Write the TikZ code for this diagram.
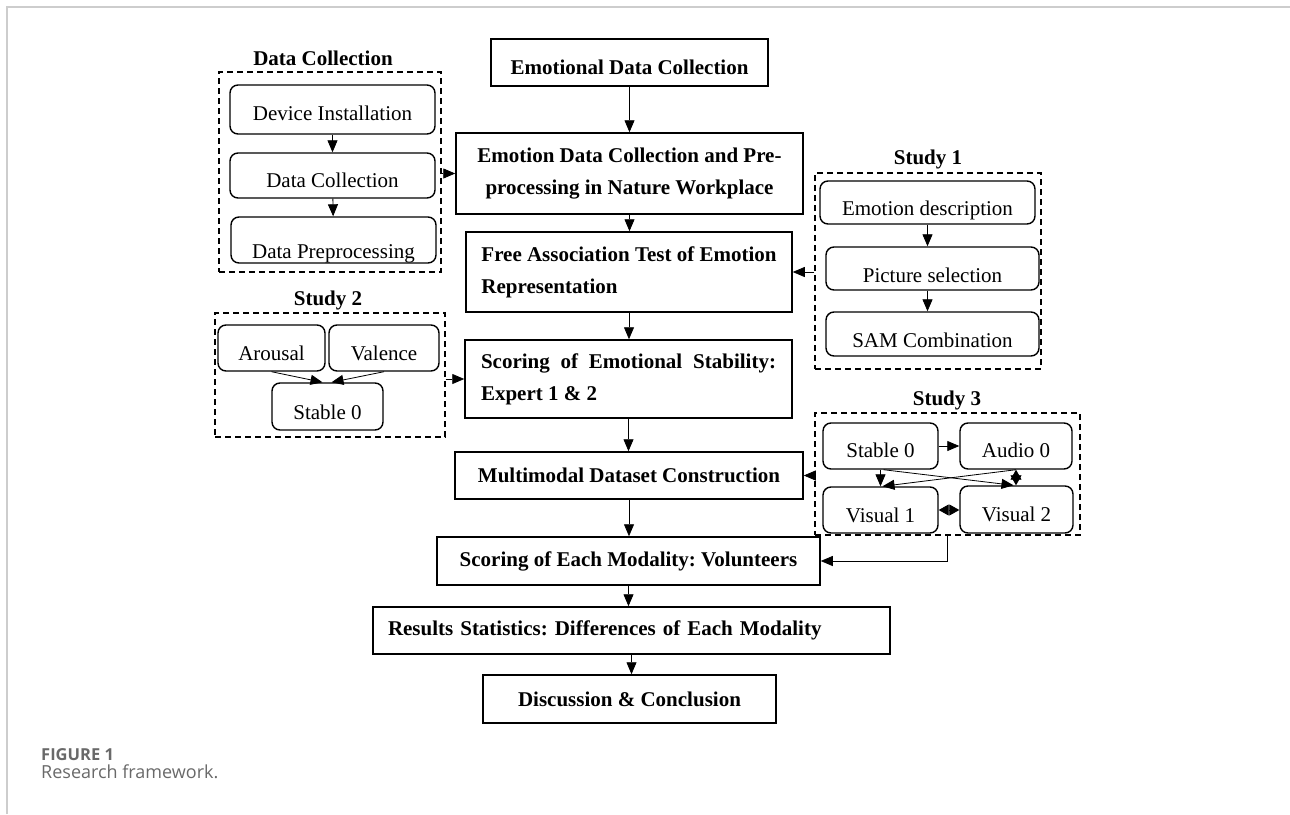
\documentclass[tikz,border=0pt]{standalone}
\usepackage{fontspec}
\setmainfont{Liberation Serif}
\newfontfamily\capfont{Open Sans}
\usetikzlibrary{arrows.meta}
\frenchspacing

\definecolor{framegray}{RGB}{205,205,205}
\definecolor{capgray}{RGB}{105,105,105}

\begin{document}
\begin{tikzpicture}[
    x=1pt, y=-1pt,
    every node/.style={font=\fontsize{21}{32}\selectfont, inner sep=0pt},
    mainbox/.style={draw, line width=1.5pt, font=\fontsize{21}{32}\selectfont\bfseries, minimum height=47},
    subbox/.style={draw, rounded corners=8pt, line width=1.4pt, minimum height=44},
    groupbox/.style={draw, line width=1.4pt, dash pattern=on 6pt off 4pt},
    grouptitle/.style={font=\fontsize{21}{25}\selectfont\bfseries},
    lowtext/.style={text height=#1, text depth=0pt},
    arr/.style={-{Triangle[length=12pt,width=10pt]}, line width=0.8pt},
    twoarr/.style={{Triangle[length=10pt,width=11pt]}-{Triangle[length=10pt,width=11pt]}, line width=0.8pt},
]
    \useasboundingbox (0,0) rectangle (1290,814);

    % page frame
    \draw[framegray, line width=1.5pt] (7,814) -- (7,7) -- (1290,7);

    % main column
    \node[mainbox, minimum width=277, lowtext=23] (edc) at (629.5, 62.5) {Emotional Data Collection};
    \node[mainbox, minimum width=347, minimum height=81, align=center] (pre) at (629.5, 173.5)
        {Emotion Data Collection and Pre-\\processing in Nature Workplace};
    \node[mainbox, minimum width=326, minimum height=80, align=left] (fat) at (629, 272)
        {Free Association Test of Emotion\\Representation};
    \node[mainbox, minimum width=327, minimum height=78, text width=295, align=justify] (ses) at (628.5, 379)
        {Scoring of Emotional Stability:\linebreak Expert 1 \& 2};
    \node[mainbox, minimum width=348] (mdc) at (629, 475.5) {Multimodal Dataset Construction};
    \node[mainbox, minimum width=383, minimum height=48] (sem) at (628.5, 561) {Scoring of Each Modality: Volunteers};
    \node[mainbox, minimum width=517, text width=487, align=left] (rs) at (631.5, 630.5)
        {Results Statistics: Differences of Each Modality};
    \node[mainbox, minimum width=293, minimum height=48] (dc) at (629.5, 699) {Discussion \& Conclusion};

    \draw[arr] (edc.south) -- (edc.south |- pre.north);
    \draw[arr] (pre.south) -- (pre.south |- fat.north);
    \draw[arr] (fat.south) -- (fat.south |- ses.north);
    \draw[arr] (ses.south) -- (ses.south |- mdc.north);
    \draw[arr] (mdc.south) -- (mdc.south |- sem.north);
    \draw[arr] (sem.south) -- (sem.south |- rs.north);
    \draw[arr] (rs.south) -- (rs.south |- dc.north);

    % Data Collection
    \node[grouptitle] (dctitle) at (323, 58) {Data Collection};
    \node[groupbox, minimum width=222, minimum height=200] (dcbox) at (330, 172) {};
    \node[subbox, minimum width=205, minimum height=49, lowtext=21] (di) at (332.5, 109.5) {Device Installation};
    \node[subbox, minimum width=205, minimum height=45, lowtext=23] (dcol) at (332.5, 175.5) {Data Collection};
    \node[subbox, minimum width=205, minimum height=46, lowtext=36] (dp) at (333.5, 240) {Data Preprocessing};
    \draw[arr] (di) -- (dcol);
    \draw[arr] (dcol) -- (dp);
    \draw[arr] (dcbox.east |- pre.west) -- (pre.west);

    % Study 1
    \node[grouptitle] (s1title) at (928, 159) {Study 1};
    \node[groupbox, minimum width=226, minimum height=196] (s1box) at (928, 271) {};
    \node[subbox, minimum width=215, minimum height=43, lowtext=25] (ed) at (927.5, 202.5) {Emotion description};
    \node[subbox, minimum width=213, minimum height=43, lowtext=27] (ps) at (932.5, 268.5) {Picture selection};
    \node[subbox, minimum width=213, minimum height=44, lowtext=26] (sam) at (932.5, 334) {SAM Combination};
    \draw[arr] (ed.south) -- (ed.south |- ps.north);
    \draw[arr] (ed.south |- ps.south) -- (ed.south |- sam.north);
    \draw[arr] (s1box.west |- fat.east) -- (fat.east);

    % Study 2
    \node[grouptitle] (s2title) at (328, 300) {Study 2};
    \node[groupbox, minimum width=230, minimum height=124] (s2box) at (330, 375) {};
    \node[subbox, minimum width=107, minimum height=46, lowtext=24] (aro) at (271.5, 348) {Arousal};
    \node[subbox, minimum width=110, minimum height=46, lowtext=24] (val) at (384, 348) {Valence};
    \node[subbox, minimum width=111, minimum height=47, lowtext=25] (st2) at (327.5, 406.5) {Stable 0};
    \draw[arr] (aro.south) -- ([xshift=-5pt]st2.north);
    \draw[arr] (val.south) -- ([xshift=4pt]st2.north);
    \draw[arr] (s2box.east |- ses.west) -- (ses.west);

    % Study 3
    \node[grouptitle] (s3title) at (947, 400) {Study 3};
    \node[groupbox, minimum width=265, minimum height=122] (s3box) at (947.5, 474) {};
    \node[subbox, minimum width=115, minimum height=46, lowtext=22] (st3) at (880.5, 446) {Stable 0};
    \node[subbox, minimum width=112, minimum height=46, lowtext=22] (aud) at (1016, 446) {Audio 0};
    \node[subbox, minimum width=115, minimum height=46, lowtext=24] (vi1) at (880.5, 510) {Visual 1};
    \node[subbox, minimum width=113, minimum height=47, lowtext=24] (vi2) at (1016.5, 509.5) {Visual 2};
    \draw[arr] (st3.east) -- (st3.east -| aud.west);
    \draw[arr] (st3.south) -- (vi1.north);
    \draw[arr] ([xshift=3pt]st3.south) -- ([xshift=-3pt]vi2.north);
    \draw[arr] (aud.south) -- ([xshift=2pt]vi1.north);
    \draw[twoarr] (aud.south) -- (aud.south |- vi2.north);
    \draw[twoarr] (vi1.east) -- (vi1.east -| vi2.west);
    \draw[arr] (s3box.west |- mdc.east) -- (mdc.east);
    \draw[arr] (s3box.south) |- (sem.east);

    % caption
    \node[anchor=base west, font=\capfont\bfseries\fontsize{16.5}{18}\selectfont, text=capgray] (fig) at (41, 760) {FIGURE 1};
    \node[anchor=base west, font=\capfont\fontsize{18}{22}\selectfont, text=capgray] (cap) at (41, 778) {Research framework.};
\end{tikzpicture}
\end{document}
